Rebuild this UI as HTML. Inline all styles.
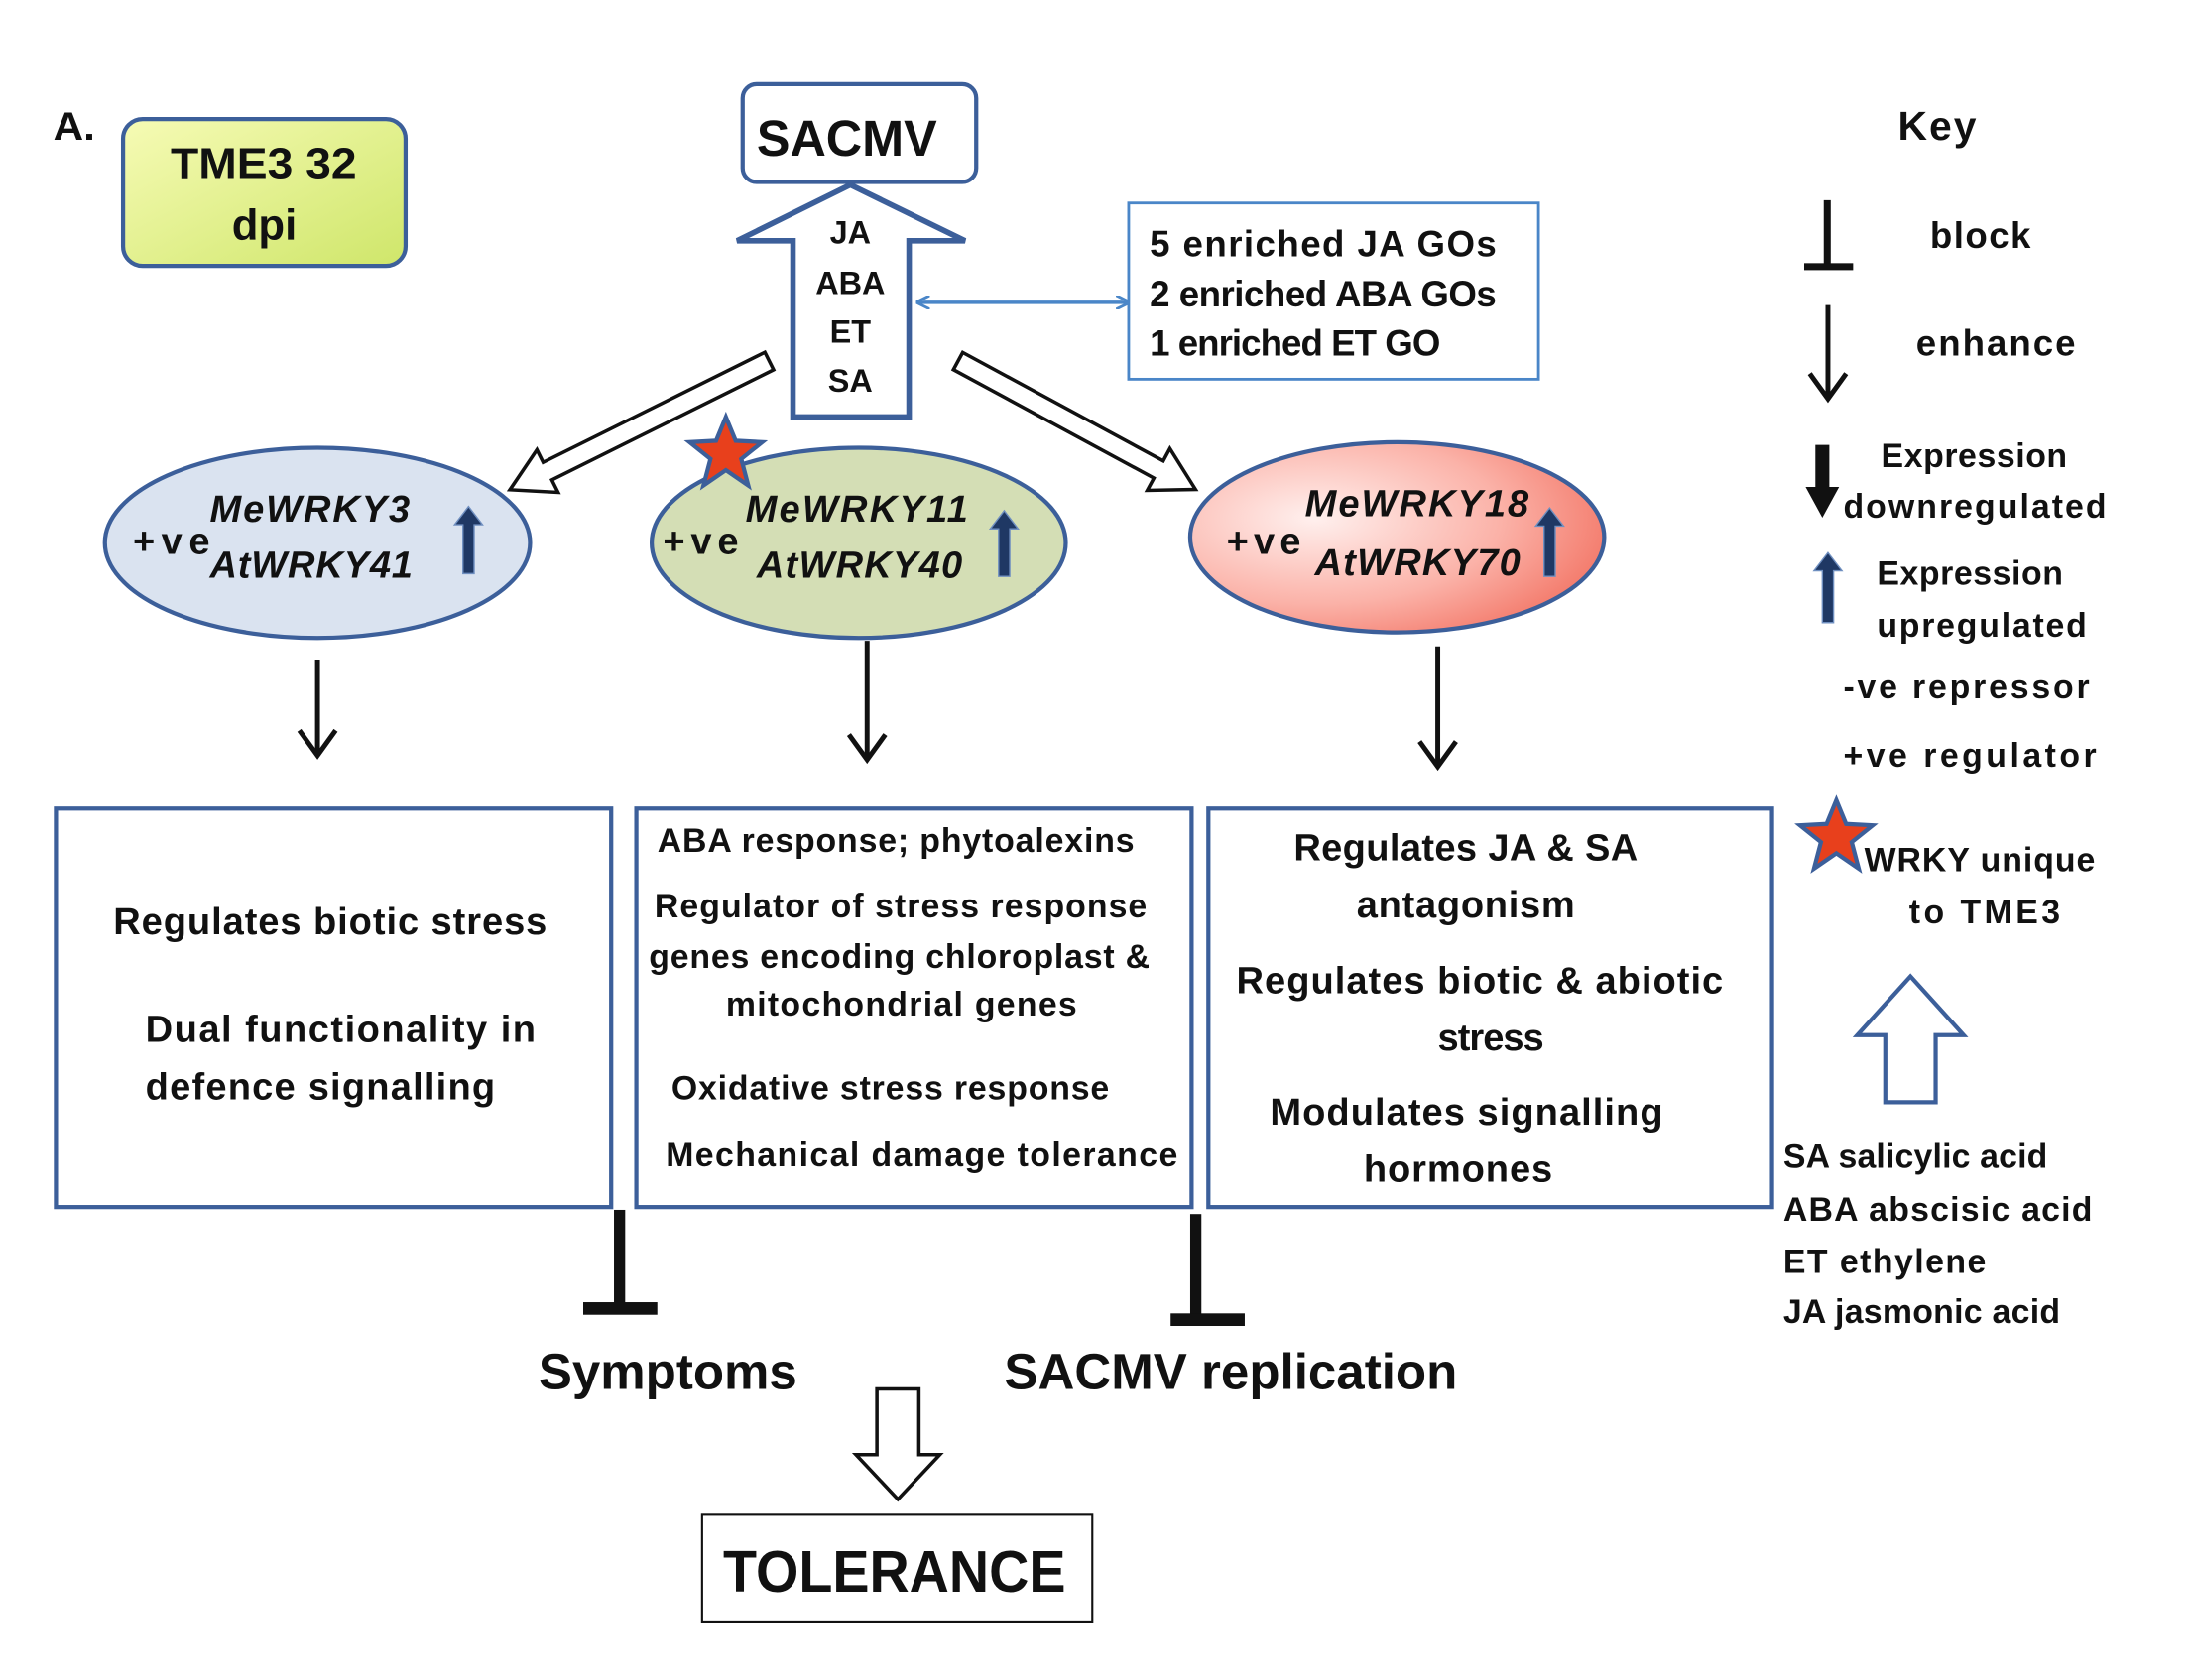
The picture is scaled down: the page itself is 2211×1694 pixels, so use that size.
<!DOCTYPE html>
<html><head><meta charset="utf-8"><style>html,body{margin:0;padding:0;background:#fff}svg{display:block}text{font-family:"Liberation Sans",sans-serif;font-weight:bold;fill:#111}</style></head><body>
<svg width="2211" height="1694" viewBox="0 0 1568 1201" xmlns="http://www.w3.org/2000/svg">
<defs>
<linearGradient id="yg" x1="0" y1="0" x2="1" y2="1"><stop offset="0" stop-color="#f6fbb5"/><stop offset="1" stop-color="#cfe66a"/></linearGradient>
<radialGradient id="rg" cx="0.3" cy="0.4" r="0.9"><stop offset="0" stop-color="#fff0ee"/><stop offset="0.5" stop-color="#fbb2a8"/><stop offset="1" stop-color="#ef5a48"/></radialGradient>
<marker id="bh" markerWidth="10" markerHeight="10" refX="8" refY="5" orient="auto-start-reverse" markerUnits="userSpaceOnUse"><path d="M0,0 L10,5 L0,10" fill="none" stroke="#4a86c8" stroke-width="2"/></marker>
</defs>
<text x="38" y="100" font-size="28" textLength="30" lengthAdjust="spacingAndGlyphs">A.</text>
<rect x="88" y="85" width="202" height="105" rx="14" fill="url(#yg)" stroke="#3c5f9a" stroke-width="3"/>
<text x="122" y="127" font-size="31" textLength="133" lengthAdjust="spacingAndGlyphs">TME3 32</text>
<text x="189" y="171" font-size="31" text-anchor="middle">dpi</text>
<rect x="531" y="60" width="167" height="70" rx="10" fill="#fff" stroke="#3c5f9a" stroke-width="3"/>
<text x="541" y="111" font-size="36" textLength="129" lengthAdjust="spacingAndGlyphs">SACMV</text>
<polygon points="567,298 650,298 650,172 690,172 608,132 527,172 567,172" fill="#fff" stroke="#3c5f9a" stroke-width="4"/>
<g font-size="23" text-anchor="middle"><text x="608" y="174">JA</text><text x="608" y="210">ABA</text><text x="608" y="245">ET</text><text x="608" y="280">SA</text></g>
<line x1="657" y1="216" x2="806" y2="216" stroke="#4a86c8" stroke-width="2.5" marker-start="url(#bh)" marker-end="url(#bh)"/>
<rect x="807" y="145" width="293" height="126" fill="#fff" stroke="#4a86c8" stroke-width="2"/>
<g font-size="26" lengthAdjust="spacingAndGlyphs"><text x="822" y="183" textLength="248">5 enriched JA GOs</text><text x="822" y="219" textLength="248">2 enriched ABA GOs</text><text x="822" y="254" textLength="208">1 enriched ET GO</text></g>
<g transform="translate(550,258) rotate(153.6)"><polygon points="0,-7 177,-7 177,-17 207,0 177,17 177,7 0,7" fill="#fff" stroke="#111" stroke-width="2.5"/></g>
<g transform="translate(685,258) rotate(28.4)"><polygon points="0,-7 163,-7 163,-17 193,0 163,17 163,7 0,7" fill="#fff" stroke="#111" stroke-width="2.5"/></g>
<ellipse cx="227" cy="388" rx="152" ry="68" fill="#dae3f0" stroke="#3c5f9a" stroke-width="3"/>
<ellipse cx="614" cy="388" rx="148" ry="68" fill="#d4deb5" stroke="#3c5f9a" stroke-width="3"/>
<ellipse cx="999" cy="384" rx="148" ry="68" fill="url(#rg)" stroke="#3c5f9a" stroke-width="3"/>
<g font-size="27" lengthAdjust="spacingAndGlyphs">
<text x="95" y="396" textLength="55">+ve</text><text x="150" y="373" font-style="italic" textLength="143">MeWRKY3</text><text x="150" y="413" font-style="italic" textLength="145">AtWRKY41</text>
<text x="474" y="396" textLength="54">+ve</text><text x="533" y="373" font-style="italic" textLength="159">MeWRKY11</text><text x="541" y="413" font-style="italic" textLength="147">AtWRKY40</text>
<text x="877" y="396" textLength="53">+ve</text><text x="933" y="369" font-style="italic" textLength="160">MeWRKY18</text><text x="940" y="411" font-style="italic" textLength="147">AtWRKY70</text>
</g>
<g fill="#1f3864" stroke="#6f8fc0" stroke-width="1">
<polygon points="331,410 339,410 339,375 345,375 335,362 325,375 331,375"/>
<polygon points="714,412 722,412 722,378 728,378 718,365 708,378 714,378"/>
<polygon points="1104,412 1112,412 1112,376 1118,376 1108,363 1098,376 1104,376"/>
<polygon points="1303,445 1311,445 1311,408 1317,408 1307,395 1297,408 1303,408"/>
</g>
<polygon points="519,298 526,315 545,316 530,328 535,347 519,336 503,347 508,328 493,316 512,315" fill="#e8401c" stroke="#3c5f9a" stroke-width="3"/>
<polygon points="1313,572 1320,589 1339,590 1324,602 1329,621 1313,610 1297,621 1302,602 1287,590 1306,589" fill="#e8401c" stroke="#3c5f9a" stroke-width="3"/>
<g stroke="#111" stroke-width="3.5" fill="none">
<line x1="227" y1="472" x2="227" y2="538"/><polyline points="214,522 227,540 240,522"/>
<line x1="620" y1="458" x2="620" y2="541"/><polyline points="607,525 620,543 633,525"/>
<line x1="1028" y1="462" x2="1028" y2="546"/><polyline points="1015,530 1028,548 1041,530"/>
<line x1="1307" y1="218" x2="1307" y2="283"/><polyline points="1294,267 1307,285 1320,267"/>
</g>
<g fill="#fff" stroke="#3c5f9a" stroke-width="3">
<rect x="40" y="578" width="397" height="285"/><rect x="455" y="578" width="397" height="285"/><rect x="864" y="578" width="403" height="285"/>
</g>
<g font-size="27" lengthAdjust="spacingAndGlyphs">
<text x="81" y="668" textLength="310">Regulates biotic  stress</text>
<text x="104" y="745" textLength="279">Dual functionality  in</text>
<text x="104" y="786" textLength="250">defence  signalling</text>
</g>
<g font-size="24" lengthAdjust="spacingAndGlyphs">
<text x="470" y="609" textLength="341">ABA response; phytoalexins</text>
<text x="468" y="656" textLength="352">Regulator of stress  response</text>
<text x="464" y="692" textLength="358">genes encoding chloroplast &amp;</text>
<text x="519" y="726" textLength="251">mitochondrial genes</text>
<text x="480" y="786" textLength="313">Oxidative stress response</text>
<text x="476" y="834" textLength="366">Mechanical damage tolerance</text>
</g>
<g font-size="27" lengthAdjust="spacingAndGlyphs">
<text x="925" y="615" textLength="246">Regulates JA &amp; SA</text>
<text x="970" y="656" textLength="156">antagonism</text>
<text x="884" y="710" textLength="348">Regulates biotic &amp; abiotic</text>
<text x="1028" y="751" textLength="76">stress</text>
<text x="908" y="804" textLength="281">Modulates  signalling</text>
<text x="975" y="845" textLength="135">hormones</text>
</g>
<g fill="#111">
<rect x="439" y="865" width="8" height="70"/><rect x="417" y="931" width="53" height="9"/>
<rect x="851" y="868" width="8" height="75"/><rect x="837" y="939" width="53" height="9"/>
<rect x="1304" y="143" width="5" height="47"/><rect x="1290" y="188" width="35" height="5"/>
<polygon points="1298,318 1308,318 1308,348 1315,348 1303,370 1291,348 1298,348"/>
</g>
<text x="385" y="993" font-size="36" textLength="185" lengthAdjust="spacingAndGlyphs">Symptoms</text>
<text x="718" y="993" font-size="36" textLength="324" lengthAdjust="spacingAndGlyphs">SACMV replication</text>
<polygon points="627,993 657,993 657,1040 672,1040 642,1072 612,1040 627,1040" fill="#fff" stroke="#111" stroke-width="2.5"/>
<rect x="502" y="1083" width="279" height="77" fill="#fff" stroke="#111" stroke-width="1.5"/>
<text x="517" y="1138" font-size="42" textLength="245" lengthAdjust="spacingAndGlyphs">TOLERANCE</text>
<g lengthAdjust="spacingAndGlyphs">
<text x="1357" y="100" font-size="29" textLength="56">Key</text>
<text x="1380" y="177" font-size="26" textLength="72">block</text>
<text x="1370" y="254" font-size="26" textLength="114">enhance</text>
</g>
<g font-size="24" lengthAdjust="spacingAndGlyphs">
<text x="1345" y="334" textLength="133">Expression</text><text x="1318" y="370" textLength="188">downregulated</text>
<text x="1342" y="418" textLength="133">Expression</text><text x="1342" y="455" textLength="150">upregulated</text>
<text x="1318" y="499" textLength="176">-ve repressor</text><text x="1318" y="548" textLength="181">+ve regulator</text>
<text x="1333" y="623" textLength="165">WRKY unique</text><text x="1365" y="660" textLength="108">to  TME3</text>
</g>
<polygon points="1348,788 1384,788 1384,740 1404,740 1366,698 1328,740 1348,740" fill="#fff" stroke="#3c5f9a" stroke-width="3"/>
<g font-size="24" lengthAdjust="spacingAndGlyphs"><text x="1275" y="835" textLength="189">SA salicylic acid</text><text x="1275" y="873" textLength="221">ABA abscisic acid</text><text x="1275" y="910" textLength="145">ET ethylene</text><text x="1275" y="946" textLength="198">JA jasmonic acid</text></g>
</svg>
</body></html>
